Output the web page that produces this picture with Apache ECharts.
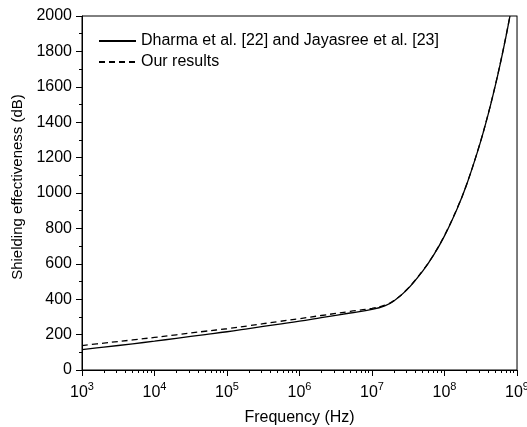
<!DOCTYPE html>
<html>
<head>
<meta charset="utf-8">
<script src="https://cdn.jsdelivr.net/npm/echarts@6/dist/echarts.min.js"></script>
<style>html,body{margin:0;padding:0;background:#fff}#c{width:527px;height:427px}</style>
</head>
<body>
<div id="c"></div>
<script>
var freq = [1e3, 2e3, 5e3, 1e4, 2e4, 5e4, 1e5, 2e5, 5e5, 1e6, 2e6, 5e6, 1e7, 1.5e7, 2e7, 3e7, 5e7, 7e7, 1e8, 1.5e8, 2e8, 3e8, 4e8, 5e8, 6e8, 7e8, 8e8];
var seRef = [115, 129, 148, 163, 179, 200, 216, 234, 258, 276, 296, 322, 342, 362, 390, 451, 559, 646, 758, 913, 1042, 1262, 1444, 1604, 1747, 1878, 2000];
var seOurs = [138, 152, 170, 184, 199, 219, 233, 250, 273, 290, 308, 331, 348, 366, 392, 453, 561, 648, 760, 915, 1044, 1264, 1446, 1606, 1749, 1880, 2002];
var xMajor = [1e3, 1e4, 1e5, 1e6, 1e7, 1e8, 1e9];
var xMinor = [];
for (var e = 3; e < 9; e++) { for (var m = 2; m <= 9; m++) { xMinor.push(m * Math.pow(10, e)); } }
var seriesNames = ['Dharma et al. [22] and Jayasree et al. [23]', 'Our results'];

function pairs(xs, ys) { return xs.map(function (x, i) { return [x, ys[i]]; }); }

var FONT = 'Liberation Sans, Arial, sans-serif';
var gridRect = {left: 82, right: 10, top: 16, bottom: 57, containLabel: false, outerBoundsMode: 'none'};
var chart = echarts.init(document.getElementById('c'), null, {renderer: 'canvas'});
chart.setOption({
  animation: false,
  backgroundColor: '#fff',
  textStyle: {fontFamily: FONT, color: '#000'},
  grid: [
    Object.assign({show: true, borderColor: '#000', borderWidth: 1, backgroundColor: 'transparent'}, gridRect),
    Object.assign({show: false}, gridRect)
  ],
  legend: {
    left: 98, top: 33, orient: 'vertical', itemWidth: 37, itemHeight: 14, itemGap: 5, padding: 0,
    itemStyle: {opacity: 0},
    textStyle: {fontSize: 16, color: '#000', fontFamily: FONT},
    data: seriesNames
  },
  xAxis: [
    {
      gridIndex: 0, type: 'log', logBase: 10, min: 1e3, max: 1e9, position: 'bottom',
      axisLine: {show: true, lineStyle: {color: '#000', width: 1}},
      axisTick: {show: true, length: 6, customValues: xMajor, lineStyle: {color: '#000'}},
      axisLabel: {
        customValues: xMajor, margin: 11, color: '#000',
        formatter: function (v) { return '{b|10}{s|' + Math.round(Math.log10(v)) + '}'; },
        rich: {
          b: {fontSize: 16, lineHeight: 20, verticalAlign: 'bottom', fontFamily: FONT, color: '#000'},
          s: {fontSize: 11, lineHeight: 12, verticalAlign: 'top', fontFamily: FONT, color: '#000'}
        }
      },
      splitLine: {show: false}, minorTick: {show: false},
      name: 'Frequency (Hz)', nameLocation: 'middle', nameGap: 40,
      nameTextStyle: {fontSize: 16, color: '#000', fontFamily: FONT}
    },
    {
      gridIndex: 1, type: 'log', logBase: 10, min: 1e3, max: 1e9, position: 'bottom',
      axisLine: {show: false},
      axisTick: {show: true, length: 3, customValues: xMinor, lineStyle: {color: '#000'}},
      axisLabel: {show: false}, splitLine: {show: false}
    }
  ],
  yAxis: [
    {
      gridIndex: 0, type: 'value', min: 0, max: 2000, interval: 200, position: 'left',
      axisLine: {show: true, lineStyle: {color: '#000', width: 1}},
      axisTick: {show: true, length: 6, lineStyle: {color: '#000'}},
      minorTick: {show: true, splitNumber: 2, length: 3, lineStyle: {color: '#000'}},
      axisLabel: {fontSize: 16, margin: 10, color: '#000', fontFamily: FONT,
        formatter: function (v) { return String(v); }},
      splitLine: {show: false}, minorSplitLine: {show: false},
      name: 'Shielding effectiveness (dB)', nameLocation: 'middle', nameGap: 41,
      nameTextStyle: {fontSize: 15, color: '#000', fontFamily: FONT, padding: [0, 0, 0, 12]}
    },
    {
      gridIndex: 1, type: 'value', min: 0, max: 2000, position: 'right',
      axisLine: {show: true, lineStyle: {color: '#777', width: 1}},
      axisTick: {show: false}, axisLabel: {show: false}, splitLine: {show: false}
    }
  ],
  series: [
    {
      name: seriesNames[0], type: 'line', xAxisIndex: 0, yAxisIndex: 0,
      symbol: 'none', smooth: 0.4,
      lineStyle: {color: '#000', width: 1.3, type: 'solid'},
      itemStyle: {color: '#000'},
      data: pairs(freq, seRef)
    },
    {
      name: seriesNames[1], type: 'line', xAxisIndex: 0, yAxisIndex: 0,
      symbol: 'none', smooth: 0.4,
      lineStyle: {color: '#000', width: 1.3, type: [6, 4]},
      itemStyle: {color: '#000'},
      data: pairs(freq, seOurs)
    }
  ]
});
</script>
</body>
</html>
